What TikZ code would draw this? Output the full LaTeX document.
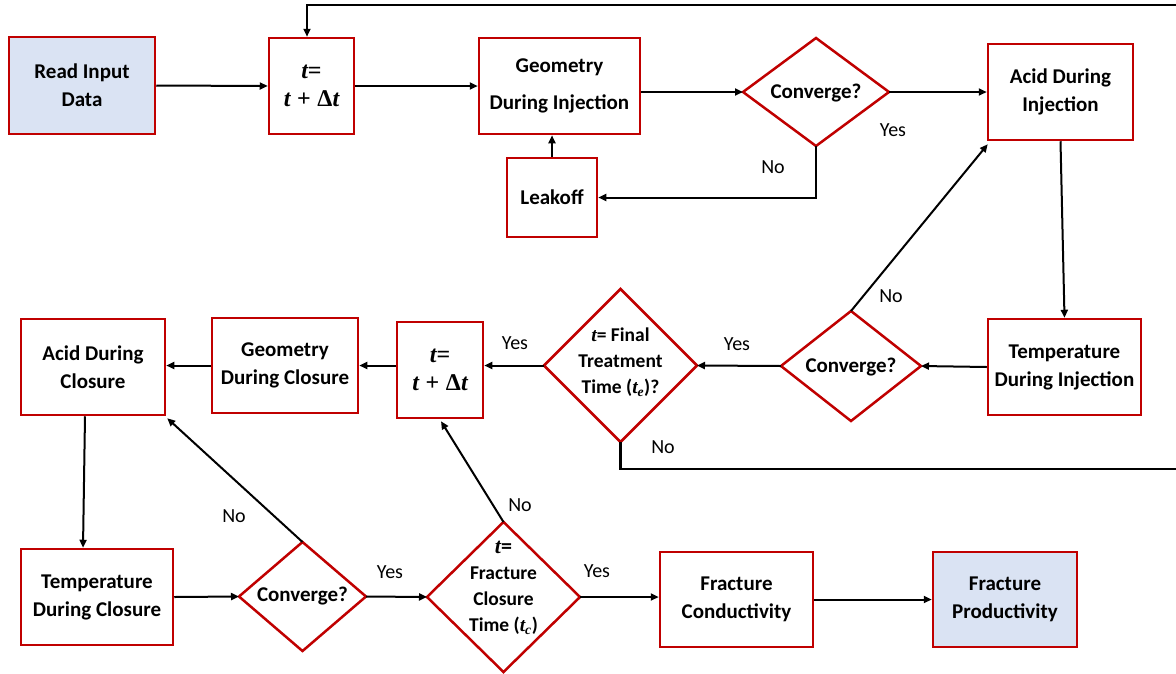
\documentclass[tikz,border=0pt]{standalone}
\usepackage{fontspec}
\setmainfont{Carlito}
\newfontfamily\mth{Liberation Serif}
\usetikzlibrary{shapes.geometric,arrows.meta}
\definecolor{boxred}{RGB}{192,0,0}
\definecolor{boxblue}{RGB}{218,227,243}
\newcommand{\tv}{{\mth\bfseries\itshape t}}
\newcommand{\mlarge}{\fontsize{24}{28}\selectfont}
\newcommand{\tstep}{\mlarge\tv{\mth\bfseries =}\\\mlarge\tv\;{\mth\bfseries +\;Δ}\tv}
\begin{document}
\begin{tikzpicture}[x=1pt,y=-1pt,
  box/.style={draw=boxred, line width=2.5pt, fill=white, align=center, inner sep=0pt,
    font=\fontsize{21}{28}\bfseries\selectfont},
  bluebox/.style={box, fill=boxblue},
  dia/.style={diamond, draw=boxred, line width=2.5pt, fill=white, inner sep=0pt, outer sep=0pt},
  dtext/.style={align=center, inner sep=0pt, font=\fontsize{21}{28}\bfseries\selectfont},
  dtextsmall/.style={align=center, inner sep=0pt, font=\fontsize{19.5}{26}\bfseries\selectfont},
  lbl/.style={inner sep=0pt, font=\fontsize{20}{24}\selectfont},
  arr/.style={line width=2pt, -{Triangle[length=8pt,width=7pt]}},
  arrthick/.style={line width=2.5pt, -{Triangle[length=8pt,width=7pt]}},
  plain/.style={line width=2.5pt}
]
\useasboundingbox (0,0) rectangle (1176,673);

% boxes
\node[bluebox, minimum width=146pt, minimum height=97pt] (read) at (82,85.5) {Read Input\\Data};
\node[box, minimum width=85pt, minimum height=96pt] (tt1) at (311.5,86) {\tstep};
\node[box, minimum width=161pt, minimum height=96pt] (geoi) at (559.5,86) {Geometry\\[9pt]During Injection};
\node[box, minimum width=90pt, minimum height=79pt] (leak) at (552,197.5) {Leakoff};
\node[dia, minimum width=146pt, minimum height=108pt] (c1) at (816,92) {};
\node[dtext] (c1t) at ([yshift=-1.5]c1.center) {Converge?};
\node[box, minimum width=145pt, minimum height=96pt] (acidi) at (1060.5,92) {Acid During\\Injection};
\node[box, minimum width=153pt, minimum height=96pt] (tempi) at (1064.5,367) {Temperature\\During Injection};
\node[dia, minimum width=140pt, minimum height=110pt] (c2) at (851,366) {};
\node[dtext] (c2t) at ([yshift=-1]c2.center) {Converge?};
\node[dia, minimum width=153pt, minimum height=153pt] (fin) at (620.5,365.5) {};
\node[dtextsmall] (fint) at ([yshift=3]fin.center) {\tv= Final\\Treatment\\Time (\tv\textsubscript{\mth\bfseries\itshape e})?};
\node[box, minimum width=86pt, minimum height=96pt] (tt2) at (440,370) {\tstep};
\node[box, minimum width=146pt, minimum height=95pt] (geoc) at (285,365.5) {Geometry\\During Closure};
\node[box, minimum width=144pt, minimum height=96pt] (acidc) at (93,367) {Acid During\\Closure};
\node[box, minimum width=152pt, minimum height=96pt] (tempc) at (97,597) {Temperature\\During Closure};
\node[dia, minimum width=127pt, minimum height=109pt] (c3) at (302.5,596.5) {};
\node[dtext] (c3t) at (c3) {Converge?};
\node[dia, minimum width=153pt, minimum height=150pt] (frac) at (503.5,597) {};
\node[dtextsmall] (fract) at ([yshift=9]frac.center) {{\fontsize{22}{26}\selectfont\tv=}\\Fracture\\Closure\\Time (\tv\textsubscript{\mth\bfseries\itshape c})};
\node[box, minimum width=153pt, minimum height=95pt] (fcond) at (736.5,599.5) {Fracture\\Conductivity};
\node[bluebox, minimum width=144pt, minimum height=95pt] (fprod) at (1005,599.5) {Fracture\\Productivity};

\coordinate (rtop) at (1176,5);
\coordinate (rbot) at (1176,469);

% connectors
\draw[arr] (read.east) -- (tt1.west);
\draw[arr] (tt1.east) -- (geoi.west);
\draw[arr] (geoi.east |- c1.west) -- (c1.west);
\draw[arr] (c1.east) -- (acidi.west |- c1.east);
\draw[arr] (c1.south) |- (leak.east);
\draw[arr] (leak.north) -- (leak.north |- geoi.south);
\draw[arrthick] (rtop) -| ([xshift=-4.5]tt1.north);
\draw[arr] (acidi.south) -- (tempi.north);
\draw[arr] (tempi.west) -- (c2.east);
\draw[arr] (c2.north) -- ([shift={(1,3)}]acidi.south west);
\draw[arr] (c2.west) -- (fin.east);
\draw[arr] (fin.west) -- (fin.west -| tt2.east);
\draw[plain] (fin.south) |- (rbot);
\draw[arr] (tt2.west |- geoc.east) -- (geoc.east);
\draw[arr] (geoc.west) -- (geoc.west -| acidc.east);
\draw[arr] ([xshift=-8]acidc.south) -- ([xshift=-14]tempc.north);
\draw[arr] (tempc.east) -- (c3.west);
\draw[arr] (c3.north) -- ([shift={(1,2)}]acidc.south east);
\draw[arr] (c3.east) -- (frac.west);
\draw[arr] (frac.north) -- ([shift={(1,2)}]tt2.south);
\draw[arr] (frac.east) -- (frac.east -| fcond.west);
\draw[arr] (fcond.east) -- (fprod.west);

% labels
\node[lbl] (l1) at (773,167) {No};
\node[lbl] (l2) at (893,130) {Yes};
\node[lbl] (l3) at (891,296) {No};
\node[lbl] (l4) at (737,344) {Yes};
\node[lbl] (l5) at (515,343) {Yes};
\node[lbl] (l6) at (663,447) {No};
\node[lbl] (l7) at (234,516) {No};
\node[lbl] (l8) at (390,572) {Yes};
\node[lbl] (l9) at (520,505) {No};
\node[lbl] (l10) at (597,571) {Yes};
\end{tikzpicture}
\end{document}
